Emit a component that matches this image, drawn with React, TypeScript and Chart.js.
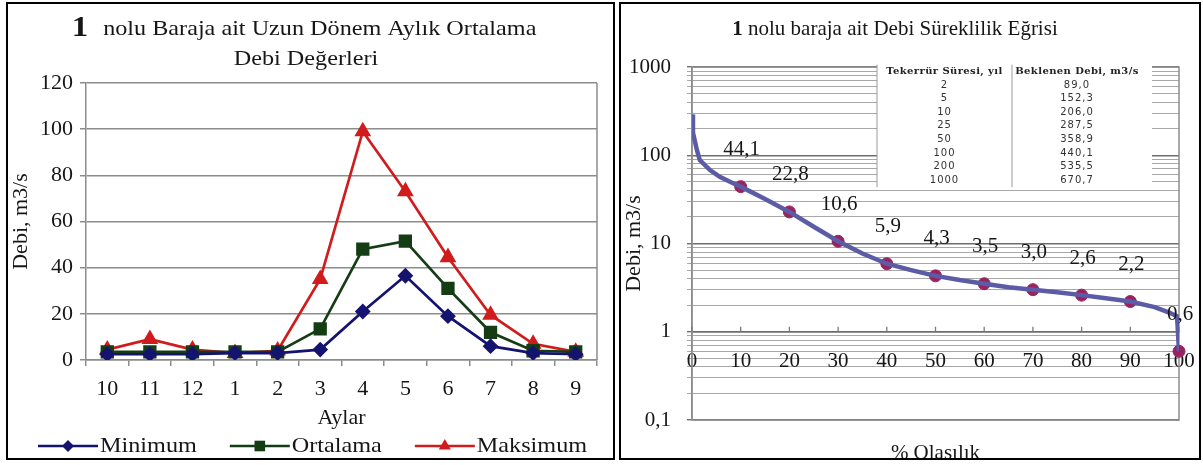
import React, { useEffect, useRef } from 'react';
import { Chart, registerables } from 'chart.js';

Chart.register(...registerables);

const SERIF = '"Liberation Serif", "Times New Roman", serif';
const TEXT = '#161616';
const GRID = '#8c8c8c';

// ---------- Left chart data ----------
const months = ['10', '11', '12', '1', '2', '3', '4', '5', '6', '7', '8', '9'];
const minimumValues = [2.5, 2.5, 2.5, 3, 3, 4.5, 21, 36.5, 19, 6, 3, 2.5];
const ortalamaValues = [3.5, 3.5, 3.5, 3.5, 3.5, 13.5, 48, 51.5, 31, 12, 4, 3.5];
const maksimumValues = [4.5, 9, 4.5, 3, 4, 35, 99, 73, 44.5, 19.5, 7, 3.5];
const seriesNames = ['Minimum', 'Ortalama', 'Maksimum'];
const leftYTicks = [0, 20, 40, 60, 80, 100, 120];
const leftTitleNumber = '1';
const leftTitleLine1 = 'nolu Baraja ait Uzun Dönem Aylık Ortalama';
const leftTitleLine2 = 'Debi Değerleri';
const leftYTitle = 'Debi, m3/s';
const leftXTitle = 'Aylar';

// ---------- Right chart data ----------
const curveX = [0, 0.2, 1, 1.6, 3.7, 5.7, 7.8, 10, 15, 20, 25, 30, 35, 40, 45, 50, 55, 60, 65, 70, 75, 80, 85, 90, 95, 98, 99.6, 100];
const curveY = [290, 180, 115, 88, 68, 57, 50, 44.1, 32, 22.8, 15.5, 10.6, 7.7, 5.9, 5.0, 4.3, 3.85, 3.5, 3.2, 3.0, 2.8, 2.6, 2.4, 2.2, 1.9, 1.65, 1.5, 0.6];
const pointX = [10, 20, 30, 40, 50, 60, 70, 80, 90, 100];
const pointY = [44.1, 22.8, 10.6, 5.9, 4.3, 3.5, 3.0, 2.6, 2.2, 0.6];
const pointLabels = ['44,1', '22,8', '10,6', '5,9', '4,3', '3,5', '3,0', '2,6', '2,2', '0,6'];
const xTickValues = [0, 10, 20, 30, 40, 50, 60, 70, 80, 90, 100];
const majorTickValues = [0.1, 1, 10, 100, 1000];
const yTickLabels = ['0,1', '1', '10', '100', '1000'];
const minorMultipliers = [2, 3, 4, 5, 6, 7, 8, 9];
const rightTitleNumber = '1';
const rightTitleText = 'nolu baraja ait Debi Süreklilik Eğrisi';
const rightYTitle = 'Debi, m3/s';
const rightXTitle = '% Olasılık';
const tableHeaders = ['Tekerrür Süresi, yıl', 'Beklenen Debi, m3/s'];
const returnPeriods = ['2', '5', '10', '25', '50', '100', '200', '1000'];
const expectedFlows = ['89,0', '152,3', '206,0', '287,5', '358,9', '440,1', '535,5', '670,7'];

const MIN_COLOR = '#141470';
const ORT_COLOR = '#143d14';
const MAK_COLOR = '#d01c1c';
const CURVE_COLOR = '#5c5ca6';
const POINT_COLOR = '#982360';

function drawMarker(ctx: CanvasRenderingContext2D, style: string, x: number, y: number, r: number, color: string) {
  ctx.save();
  ctx.fillStyle = color;
  ctx.beginPath();
  if (style === 'rectRot') {
    ctx.moveTo(x, y - r);
    ctx.lineTo(x + r, y);
    ctx.lineTo(x, y + r);
    ctx.lineTo(x - r, y);
  } else if (style === 'rect') {
    const h = r * Math.SQRT1_2;
    ctx.rect(x - h, y - h, 2 * h, 2 * h);
  } else {
    ctx.moveTo(x, y - r);
    ctx.lineTo(x + 0.866 * r, y + 0.5 * r);
    ctx.lineTo(x - 0.866 * r, y + 0.5 * r);
  }
  ctx.closePath();
  ctx.fill();
  ctx.restore();
}

const STRETCH = 1.1;

function stretchedText(ctx: CanvasRenderingContext2D, text: string, x: number, y: number, sx: number) {
  ctx.save();
  ctx.translate(x, y);
  ctx.scale(sx, 1);
  ctx.textAlign = 'left';
  ctx.fillText(text, 0, 0);
  ctx.restore();
}

const leftTitlePlugin = {
  id: 'leftTitle',
  afterDraw(chart: any) {
    const ctx: CanvasRenderingContext2D = chart.ctx;
    ctx.save();
    ctx.fillStyle = TEXT;
    ctx.textBaseline = 'alphabetic';
    const numFont = `bold 30px ${SERIF}`;
    const txtFont = `22px ${SERIF}`;
    ctx.font = numFont;
    const w1 = ctx.measureText(leftTitleNumber).width * STRETCH;
    ctx.font = txtFont;
    const gap = 15;
    const w2 = ctx.measureText(leftTitleLine1).width * STRETCH;
    const cx = 296;
    const start = cx - (w1 + gap + w2) / 2;
    ctx.font = numFont;
    stretchedText(ctx, leftTitleNumber, start, 32, STRETCH);
    ctx.font = txtFont;
    stretchedText(ctx, leftTitleLine1, start + w1 + gap, 31, STRETCH);
    const w3 = ctx.measureText(leftTitleLine2).width * STRETCH;
    stretchedText(ctx, leftTitleLine2, 298 - w3 / 2, 61, STRETCH);
    ctx.restore();
  },
};

const leftLegendPlugin = {
  id: 'leftLegend',
  afterDraw(chart: any) {
    const ctx: CanvasRenderingContext2D = chart.ctx;
    const y = 442;
    let x = 30;
    const radii = [6, 7.5, 7];
    ctx.save();
    ctx.font = `22px ${SERIF}`;
    ctx.textBaseline = 'middle';
    chart.data.datasets.forEach((ds: any, i: number) => {
      ctx.strokeStyle = ds.borderColor;
      ctx.lineWidth = 2.5;
      ctx.beginPath();
      ctx.moveTo(x, y);
      ctx.lineTo(x + 60, y);
      ctx.stroke();
      drawMarker(ctx, ds.pointStyle, x + 30, y, radii[i], ds.borderColor);
      ctx.fillStyle = TEXT;
      const tx = x + 62;
      stretchedText(ctx, ds.label, tx, y, STRETCH);
      x = tx + ctx.measureText(ds.label).width * STRETCH + 33;
    });
    ctx.restore();
  },
};

const leftFramePlugin = {
  id: 'leftFrame',
  beforeDatasetsDraw(chart: any) {
    const { ctx, chartArea } = chart;
    ctx.save();
    ctx.strokeStyle = GRID;
    ctx.lineWidth = 1.5;
    ctx.beginPath();
    ctx.moveTo(chartArea.right, chartArea.top);
    ctx.lineTo(chartArea.right, chartArea.bottom);
    ctx.stroke();
    ctx.restore();
  },
};

function LeftChart() {
  const ref = useRef<HTMLCanvasElement>(null);
  useEffect(() => {
    const font = { family: SERIF, size: 22 };
    const chart = new Chart(ref.current as HTMLCanvasElement, {
      type: 'line',
      data: {
        labels: months,
        datasets: [
          { label: seriesNames[0], data: minimumValues, borderColor: MIN_COLOR, backgroundColor: MIN_COLOR, pointStyle: 'rectRot', pointRadius: 6, borderWidth: 2.7 },
          { label: seriesNames[1], data: ortalamaValues, borderColor: ORT_COLOR, backgroundColor: ORT_COLOR, pointStyle: 'rect', pointRadius: 7.5, borderWidth: 2.7 },
          { label: seriesNames[2], data: maksimumValues, borderColor: MAK_COLOR, backgroundColor: MAK_COLOR, pointStyle: 'triangle', pointRadius: 7, borderWidth: 2.7 },
        ],
      },
      options: {
        animation: false,
        responsive: false,
        layout: { padding: { top: 79, left: 0, right: 16, bottom: 27 } },
        plugins: { legend: { display: false }, tooltip: { enabled: false } },
        scales: {
          x: {
            offset: true,
            grid: { display: true, offset: true, drawOnChartArea: false, drawTicks: true, tickLength: 6, color: GRID, lineWidth: 1.5 },
            border: { display: true, color: GRID, width: 1.5 },
            ticks: { font, color: TEXT, padding: 10, maxRotation: 0, autoSkip: false },
            title: { display: true, text: leftXTitle, font, color: TEXT, padding: 0 },
            afterFit: (s: any) => { s.height = 71; },
          },
          y: {
            min: 0,
            max: 120,
            afterBuildTicks: (s: any) => { s.ticks = leftYTicks.map((v) => ({ value: v })); },
            ticks: { font, color: TEXT, padding: 7 },
            grid: { color: GRID, lineWidth: 1.5, tickLength: 6 },
            border: { color: GRID, width: 1.5 },
            title: { display: true, text: leftYTitle, font, color: TEXT, padding: 0 },
            afterFit: (s: any) => { s.width = 78; },
          },
        },
      } as any,
      plugins: [leftFramePlugin, leftTitlePlugin, leftLegendPlugin],
    });
    return () => chart.destroy();
  }, []);
  return <canvas ref={ref} width={605} height={454} style={{ display: 'block' }} />;
}

const isMajor = (v: number) => majorTickValues.some((m) => Math.abs(m - v) < 1e-9);

const rightFramePlugin = {
  id: 'rightFrame',
  beforeDatasetsDraw(chart: any) {
    const { ctx, chartArea, scales } = chart;
    ctx.save();
    ctx.strokeStyle = GRID;
    ctx.lineWidth = 1.5;
    ctx.strokeRect(chartArea.left, chartArea.top, chartArea.right - chartArea.left, chartArea.bottom - chartArea.top);
    // upward tick marks on the horizontal axis line (drawn at y = 1)
    const yAxis = scales.y.getPixelForValue(1);
    ctx.strokeStyle = '#7a7a7a';
    ctx.lineWidth = 1.3;
    ctx.beginPath();
    xTickValues.forEach((v) => {
      const px = scales.x.getPixelForValue(v);
      ctx.moveTo(px, yAxis);
      ctx.lineTo(px, yAxis - 5);
    });
    ctx.stroke();
    ctx.restore();
  },
};

const tablePlugin = {
  id: 'returnTable',
  beforeDatasetsDraw(chart: any) {
    const { ctx, chartArea } = chart;
    const x0 = chartArea.left + 185;
    const x1 = chartArea.left + 460;
    const xDiv = chartArea.left + 320;
    const rowH = 13.6;
    const y0 = chartArea.top - 2.3;
    const rows = returnPeriods.length + 1;
    const y1 = y0 + rowH * rows;
    ctx.save();
    ctx.fillStyle = '#ffffff';
    ctx.fillRect(x0, y0, x1 - x0, y1 - y0);
    ctx.strokeStyle = '#9a9a9a';
    ctx.lineWidth = 1;
    ctx.beginPath();
    ctx.moveTo(x0, y0);
    ctx.lineTo(x0, y1);
    ctx.moveTo(xDiv, y0);
    ctx.lineTo(xDiv, y1);
    ctx.stroke();
    ctx.textAlign = 'center';
    ctx.textBaseline = 'middle';
    const c1 = (x0 + xDiv) / 2;
    const c2 = (xDiv + x1) / 2 - 5;
    (ctx as any).letterSpacing = '0.4px';
    ctx.font = `bold 10px "DejaVu Serif", serif`;
    ctx.fillStyle = '#222';
    ctx.fillText(tableHeaders[0], c1, y0 + rowH / 2);
    ctx.fillText(tableHeaders[1], c2, y0 + rowH / 2);
    (ctx as any).letterSpacing = '1px';
    ctx.font = `10px "DejaVu Sans", sans-serif`;
    ctx.fillStyle = '#333';
    returnPeriods.forEach((p, i) => {
      const cy = y0 + rowH * (i + 1) + rowH / 2;
      ctx.fillText(p, c1, cy);
      ctx.fillText(expectedFlows[i], c2, cy);
    });
    ctx.restore();
  },
};

const pointLabelPlugin = {
  id: 'pointLabels',
  afterDatasetsDraw(chart: any) {
    const { ctx } = chart;
    const meta = chart.getDatasetMeta(1);
    ctx.save();
    ctx.font = `21px ${SERIF}`;
    ctx.fillStyle = TEXT;
    ctx.textAlign = 'center';
    ctx.textBaseline = 'middle';
    meta.data.forEach((el: any, i: number) => {
      ctx.fillText(pointLabels[i], el.x + 1, el.y - 37);
    });
    ctx.restore();
  },
};

const rightTextPlugin = {
  id: 'rightTexts',
  afterDraw(chart: any) {
    const { ctx, chartArea } = chart;
    ctx.save();
    ctx.fillStyle = TEXT;
    ctx.textBaseline = 'alphabetic';
    ctx.textAlign = 'left';
    const numFont = `bold 21px ${SERIF}`;
    const txtFont = `21px ${SERIF}`;
    ctx.font = numFont;
    const w1 = ctx.measureText(rightTitleNumber).width;
    ctx.font = txtFont;
    const gap = ctx.measureText(' ').width;
    const w2 = ctx.measureText(rightTitleText).width;
    const cx = 274;
    const start = cx - (w1 + gap + w2) / 2;
    ctx.font = numFont;
    ctx.fillText(rightTitleNumber, start, 31);
    ctx.font = txtFont;
    ctx.fillText(rightTitleText, start + w1 + gap, 31);
    ctx.textAlign = 'center';
    ctx.textBaseline = 'middle';
    ctx.fillText(rightXTitle, (chartArea.left + chartArea.right) / 2, 449);
    ctx.restore();
  },
};

function RightChart() {
  const ref = useRef<HTMLCanvasElement>(null);
  useEffect(() => {
    const font = { family: SERIF, size: 21 };
    const chart = new Chart(ref.current as HTMLCanvasElement, {
      type: 'line',
      data: {
        datasets: [
          {
            label: 'Debi',
            data: curveX.map((x, i) => ({ x, y: curveY[i] })),
            borderColor: CURVE_COLOR,
            borderWidth: 4.5,
            pointRadius: 0,
            tension: 0,
          },
          {
            label: 'Olasılık',
            data: pointX.map((x, i) => ({ x, y: pointY[i] })),
            borderColor: POINT_COLOR,
            backgroundColor: POINT_COLOR,
            pointRadius: 6,
            showLine: false,
            clip: false,
          },
        ],
      },
      options: {
        animation: false,
        responsive: false,
        layout: { padding: { top: 63, left: 0, right: 20, bottom: 38 } },
        plugins: { legend: { display: false }, tooltip: { enabled: false } },
        scales: {
          x: {
            type: 'linear',
            min: 0,
            max: 100,
            position: { y: 1 },
            afterBuildTicks: (s: any) => { s.ticks = xTickValues.map((v) => ({ value: v })); },
            afterFit: (s: any) => { s.paddingLeft = 0; s.paddingRight = 0; },
            ticks: { font, color: TEXT, padding: 9, maxRotation: 0, autoSkip: false },
            grid: { display: false },
            border: { display: true, color: '#6e6e6e', width: 1.5 },
          },
          y: {
            type: 'logarithmic',
            min: 0.1,
            max: 1000,
            afterBuildTicks: (s: any) => {
              const vals: number[] = [];
              majorTickValues.slice(0, -1).forEach((d) => {
                vals.push(d);
                minorMultipliers.forEach((m) => vals.push(Number((d * m).toPrecision(3))));
              });
              vals.push(majorTickValues[majorTickValues.length - 1]);
              s.ticks = vals.map((v) => ({ value: v, major: isMajor(v) }));
            },
            ticks: {
              font,
              color: TEXT,
              padding: 16,
              autoSkip: false,
              callback: (value: any) => {
                const idx = majorTickValues.findIndex((m) => Math.abs(m - Number(value)) < 1e-9);
                return idx >= 0 ? yTickLabels[idx] : '';
              },
            },
            grid: {
              color: (c: any) => (c.tick && isMajor(c.tick.value) ? '#6e6e6e' : '#a8a8a8'),
              lineWidth: (c: any) => (c.tick && isMajor(c.tick.value) ? 1.4 : 1),
              tickLength: 5,
            },
            border: { color: GRID, width: 1.5 },
            title: { display: true, text: rightYTitle, font: { family: SERIF, size: 22 }, color: TEXT, padding: 0 },
            afterFit: (s: any) => { s.width = 71; },
          },
        },
      } as any,
      plugins: [rightFramePlugin, tablePlugin, pointLabelPlugin, rightTextPlugin],
    });
    return () => chart.destroy();
  }, []);
  return <canvas ref={ref} width={578} height={454} style={{ display: 'block' }} />;
}

export default function App() {
  return (
    <div style={{ position: 'absolute', left: 0, top: 0, width: 1203, height: 465, background: '#fff', overflow: 'hidden' }}>
      <div style={{ position: 'absolute', left: 6, top: 2, width: 605, height: 454, border: '2px solid #000', overflow: 'hidden', background: '#fff' }}>
        <LeftChart />
      </div>
      <div style={{ position: 'absolute', left: 619, top: 2, width: 578, height: 454, border: '2px solid #000', overflow: 'hidden', background: '#fff' }}>
        <RightChart />
      </div>
    </div>
  );
}
